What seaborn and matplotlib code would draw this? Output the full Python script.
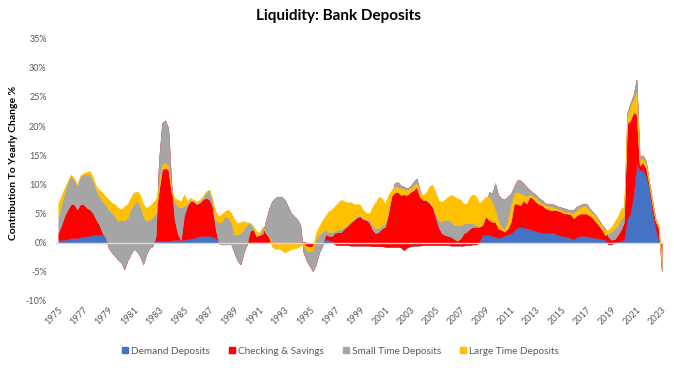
import numpy as np
import pandas as pd
import matplotlib
matplotlib.use("Agg")
import matplotlib.pyplot as plt
from matplotlib.lines import Line2D
import seaborn as sns

title = "Liquidity: Bank Deposits"
y_label = "Contribution To Yearly Change %"
series_names = ["Demand Deposits", "Checking & Savings",
                "Small Time Deposits", "Large Time Deposits"]
colors = ["#4472C4", "#FF0000", "#A5A5A5", "#FFC000"]
tick_years = list(range(1975, 2024, 2))
y_ticks = [-10, -5, 0, 5, 10, 15, 20, 25, 30, 35]

# quarterly contributions (%), 1975Q1 ... 2023Q1, one line per year
demand = [
    .45, .5, .5, .6,  .8, .8, .8, .9,  1.0, 1.1, 1.2, 1.3,  1.3, 1.3, 1.3, 1.2,
    .8, .6, .5, .4,  .3, .2, .2, .2,  .2, .2, .1, .1,  .1, .2, .2, .3,
    .3, .3, .3, .3,  .4, .5, .5, .4,  .5, .6, .7, .8,  1.0, 1.1, 1.1, 1.2,
    1.2, 1.0, .8, .2,  0, 0, 0, 0,  0, 0, 0, 0,  .1, .1, .1, .1,
    .1, .1, .1, .1,  .1, .1, .1, .1,  .1, .1, .1, .1,  .1, .1, .1, 0,
    0, 0, 0, 0,  .2, .6, .4, .3,  -.3, -.4, -.4, -.4,  -.4, -.5, -.5, -.5,
    -.5, -.5, -.5, -.5,  -.6, -.6, -.6, -.6,  -.7, -.7, -.7, -.7,  -.7, -.8, -1.3, -.8,
    -.6, -.5, -.5, -.5,  -.4, -.4, -.4, -.4,  -.4, -.4, -.4, -.4,  -.4, -.5, -.5, -.5,
    -.5, -.5, -.4, -.4,  -.3, -.3, .2, 1.3,  1.3, 1.3, 1.2, 1.0,  .8, 1.0, 1.2, 1.4,
    1.6, 2.0, 2.6, 2.7,  2.6, 2.5, 2.3, 2.1,  2.0, 1.8, 1.6, 1.7,  1.6, 1.7, 1.6, 1.3,
    1.2, 1.1, 1.0, .8,  .6, 1.0, 1.2, 1.2,  1.1, 1.0, .9, .8,  .7, .6, .5, -.3,
    -.3, .1, .2, .3,  .5, 4.0, 5.1, 8.0,  13.5, 12.5, 12.4, 11.5,  9.3, 5.5, 2.5, .5,
    -.2,
]
checking = [
    1.25, 2.6, 4.1, 5.1,  5.8, 5.8, 4.9, 5.7,  5.6, 4.9, 4.5, 3.8,  2.7, 1.8, .4, -.3,
    -1.7, -2.3, -2.8, -3.3,  -3.7, -4.8, -3.3, -2.2,  -1.3, -1.7, -2.4, -3.8,  -2.1, -1.1, -.8, .8,
    13.7, 20.2, 20.7, 19.4,  9.6, 3.5, 1.0, 0.0,  4.1, 5.7, 6.4, 6.3,  5.6, 5.75, 6.3, 6.5,
    6.2, 5.3, 1.7, -.3,  -.3, -.3, -.2, -.3,  -1.7, -3.1, -3.7, -1.7,  -.4, 1.9, 2.2, 1.0,
    1.2, 1.4, 3.6, 5.6,  7.0, 7.6, 7.8, 7.8,  7.3, 6.2, 5.0, 4.5,  3.9, 3.0, -1.8, -3.1,
    -4.0, -4.9, -3.7, -1.7,  -.8, .8, .8, .8,  2.0, 2.2, 2.2, 2.8,  3.25, 3.9, 4.4, 4.8,
    5.0, 4.5, 4.4, 3.9,  2.8, 2.2, 2.5, 3.05,  3.4, 5.7, 8.6, 10.9,  11.1, 10.6, 10.9, 10.1,
    10.3, 10.9, 11.5, 9.5,  7.7, 7.7, 7.25, 6.6,  4.85, 3.1, 2.0, 1.7,  1.55, 1.5, 1.1, .85,
    1.25, 2.1, 2.3, 2.85,  3.0, 3.0, 2.5, 1.7,  3.15, 7.4, 7.2, 9.2,  7.4, 6.6, 6.2, 6.5,
    6.8, 7.6, 8.1, 8.0,  7.6, 7.1, 6.7, 6.5,  6.2, 5.8, 5.7, 5.0,  5.1, 5.0, 4.85, 4.9,
    4.85, 4.8, 4.7, 4.8,  5.0, 5.2, 5.25, 5.5,  5.6, 4.9, 4.4, 3.9,  3.2, 2.4, 1.95, 1.3,
    .8, .5, 1.1, 1.9,  3.0, 18.1, 18.8, 17.3,  14.5, 2.2, 2.6, 2.5,  1.2, 1.8, 1.7, 2.3,
    -4.7,
]
small_time = [
    2.6, 3.5, 4.0, 4.6,  4.9, 4.2, 4.1, 4.7,  5.1, 5.7, 6.0, 5.5,  5.1, 4.9, 5.4, 5.7,
    6.6, 6.8, 6.9, 6.6,  7.4, 8.3, 7.4, 7.7,  7.7, 8.6, 8.6, 8.3,  5.7, 4.9, 4.9, 4.0,
    -5.0, -7.9, -8.2, -7.1,  -1.4, 3.1, 4.8, 5.6,  1.7, .3, .2, .1,  .1, .2, .3, .9,
    1.7, 1.1, 1.5, 3.5,  3.9, 4.9, 4.5, 3.7,  3.1, 4.5, 5.4, 4.0,  3.4, 1.4, .3, .1,
    .1, 1.2, -2.0, -4.6,  -7.1, -7.7, -7.9, -7.9,  -7.4, -6.3, -5.1, -4.6,  -4.0, -3.1, 1.3, 1.7,
    2.5, 3.5, 4.3, 3.1,  2.4, .9, .6, .7,  .3, .4, .6, .3,  .25, .3, .1, .3,
    .2, .2, .15, .5,  .8, .85, .6, .55,  .6, .5, .1, -1.6,  -1.7, -1.6, -1.3, -1.1,
    -1.0, -1.4, -1.4, -1.1,  .1, .05, .1, .1,  .55, 1.2, 2.0, 2.6,  2.75, 2.6, 2.4, 2.65,
    2.25, 1.7, 1.4, .95,  .6, .3, .1, .3,  .1, -4.8, -4.8, -6.6,  -5.75, -5.4, -5.5, -5.45,
    -4.8, -2.9, -4.0, -4.3,  -2.9, -2.9, -1.1, -1.0,  -1.2, -1.0, -.9, -.8,  -1.0, -1.1, -.85, -.7,
    -.75, -.9, -.7, -.7,  -1.4, -1.5, -1.45, -1.7,  -1.7, -1.2, -1.0, -1.1,  -.9, -.8, -1.15, .6,
    1.4, 1.8, 1.7, 1.8,  1.2, -1.7, -2.9, -2.9,  -6.0, -1.5, -1.2, -1.2,  -.5, -.7, -.4, -.3,
    1.5,
]
large_time = [
    2.55, 1.5, .8, .3,  .2, .3, .2, .2,  .3, .4, .6, .7,  .6, 1.1, 1.5, 1.4,
    1.7, 1.75, 2.0, 2.3,  1.7, 2.6, 2.3, 2.0,  2.0, 1.7, 2.0, 2.0,  2.3, 2.3, 2.55, 2.3,
    .8, .8, .9, .6,  .4, .6, 1.1, 1.1,  2.0, .5, .4, .2,  .4, .35, .3, .2,
    0, 0, 1.5, 1.2,  1.3, .8, 1.4, 1.7,  2.6, 2.0, 1.8, 1.4,  .4, 0, .3, .8,
    .3, 0, 0, -.1,  -.7, -1.1, -1.0, -1.25,  -1.7, -1.4, -1.1, -1.0,  -.85, -.6, .3, .8,
    .8, .8, 1.1, 1.45,  2.0, 2.3, 3.6, 3.9,  4.3, 4.65, 5.0, 4.4,  3.75, 3.3, 2.6, 2.0,
    1.9, 1.4, 1.1, 1.1,  3.2, 4.55, 5.4, 4.6,  3.4, 2.7, 1.0, 1.0,  .8, 1.1, .8, .8,
    .6, .7, .6, .7,  .8, 1.25, 2.65, 3.7,  3.7, 3.4, 3.4, 3.5,  4.0, 4.6, 4.9, 4.6,
    4.4, 3.4, 3.4, 4.5,  5.0, 4.9, 4.0, 4.0,  3.35, 4.0, 3.4, 2.0,  1.15, .5, .3, 1.15,
    2.6, 1.7, 2.0, 2.0,  .9, 1.2, .3, .4,  .6, .4, .3, .4,  .5, .6, .3, .2,
    .3, .3, .3, .2,  .8, .9, .9, 1.3,  1.2, .8, .7, .85,  .6, .5, .9, .6,
    .8, 1.2, 1.45, 1.8,  1.5, 1.2, 2.3, 2.0,  4.0, .6, .7, .6,  .3, .4, .2, .2,
    1.4,
]

n = len(demand)
assert n == len(checking) == len(small_time) == len(large_time) == 193
t = 1975 + 0.25 * np.arange(n)

df = pd.DataFrame({series_names[0]: demand, series_names[1]: checking,
                   series_names[2]: small_time, series_names[3]: large_time},
                  index=t)

sns.set_style("white")
plt.rcParams["font.family"] = ["Lato", "DejaVu Sans"]

fig = plt.figure(figsize=(6.74, 3.68), dpi=100)
ax = fig.add_axes([0.0837, 0.1821, 0.8995, 0.7130])

# Excel-style stacked area: cumulative bands drawn in order, later ones on top
cum = df.cumsum(axis=1)
prev = np.zeros(n)
for name, col in zip(series_names, colors):
    ax.fill_between(df.index, prev, cum[name].values, color=col,
                    lw=0.3, edgecolor=col, zorder=1)
    prev = cum[name].values

ax.set_xlim(1974.85, 2023.08)
ax.set_ylim(-10, 35)
ax.set_yticks(y_ticks)
ax.set_yticklabels([f"{v}%" for v in y_ticks])
ax.tick_params(axis="y", length=0, pad=7, labelsize=6.5, labelcolor="#595959")

for s in ["top", "right", "left"]:
    ax.spines[s].set_visible(False)
ax.spines["bottom"].set_position(("data", 0))
ax.spines["bottom"].set_color("#D9D9D9")
ax.spines["bottom"].set_linewidth(1.0)
ax.spines["bottom"].set_zorder(3)
ax.set_xticks(tick_years)
ax.tick_params(axis="x", direction="out", length=3, width=0.8,
               color="#D9D9D9", labelbottom=False)

sec = ax.secondary_xaxis("bottom")
sec.set_xticks(tick_years)
sec.set_xticklabels([str(y) for y in tick_years])
sec.spines["bottom"].set_visible(False)
sec.tick_params(axis="x", length=0, pad=3, labelsize=6.5, labelcolor="#595959")
for lab in sec.get_xticklabels():
    lab.set_rotation(45)
    lab.set_ha("right")
    lab.set_rotation_mode("anchor")

ax.grid(False)

fig.text(0.5015, 1 - 16 / 368, title, ha="center", va="center",
         fontsize=11, fontweight="bold", color="black")
fig.text(14 / 674, 1 - 163 / 368, y_label, ha="center", va="center",
         rotation=90, fontsize=7.5, fontweight="bold", color="black")

handles = [Line2D([0], [0], marker="s", linestyle="none", markersize=4,
                  markerfacecolor=c, markeredgecolor=c) for c in colors]
fig.legend(handles, series_names, loc="center", bbox_to_anchor=(340 / 674, 1 - 351 / 368),
           ncol=4, frameon=False, fontsize=7.2, handletextpad=0.2,
           columnspacing=1.8, labelcolor="#595959", handlelength=0.8)

fig.savefig("out.png", dpi=100)
